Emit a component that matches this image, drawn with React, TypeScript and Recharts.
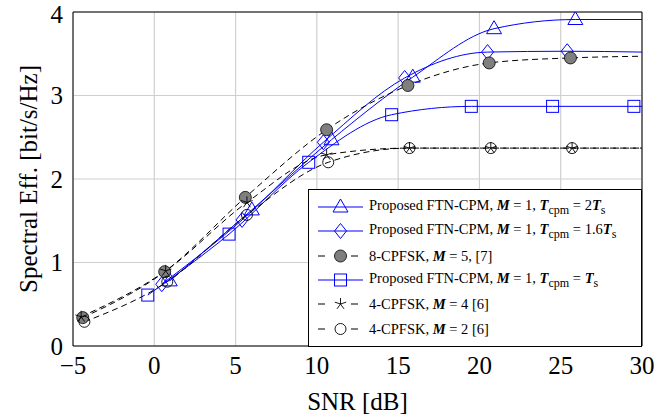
import React from 'react'
import { LineChart, Line, XAxis, YAxis, CartesianGrid, ReferenceArea, Legend } from 'recharts'

// ─── Data (SNR [dB], spectral efficiency [bit/s/Hz]) ──────────────────────────

type Pt = { snr: number; se: number }

const ftn2Ts: Pt[] = [
  { snr: 0.95, se: 0.78 },
  { snr: 6.0, se: 1.63 },
  { snr: 10.9, se: 2.47 },
  { snr: 15.9, se: 3.22 },
  { snr: 20.9, se: 3.8 },
  { snr: 25.9, se: 3.91 },
  { snr: 30, se: 3.91 },
]

const ftn16Ts: Pt[] = [
  { snr: 0.46, se: 0.74 },
  { snr: 5.4, se: 1.51 },
  { snr: 10.4, se: 2.44 },
  { snr: 15.4, se: 3.21 },
  { snr: 20.5, se: 3.52 },
  { snr: 25.4, se: 3.53 },
  { snr: 30, se: 3.52 },
]

const cpfsk8: Pt[] = [
  { snr: -4.4, se: 0.34 },
  { snr: 0.64, se: 0.89 },
  { snr: 5.6, se: 1.78 },
  { snr: 10.6, se: 2.59 },
  { snr: 15.6, se: 3.12 },
  { snr: 20.6, se: 3.39 },
  { snr: 25.6, se: 3.45 },
  { snr: 30, se: 3.47 },
]

const ftnTs: Pt[] = [
  { snr: -0.4, se: 0.61 },
  { snr: 4.6, se: 1.34 },
  { snr: 9.5, se: 2.2 },
  { snr: 14.6, se: 2.77 },
  { snr: 19.5, se: 2.87 },
  { snr: 24.5, se: 2.87 },
  { snr: 29.5, se: 2.87 },
  { snr: 30, se: 2.87 },
]

const cpfsk4M4: Pt[] = [
  { snr: -4.5, se: 0.35 },
  { snr: 0.7, se: 0.9 },
  { snr: 5.7, se: 1.72 },
  { snr: 10.6, se: 2.29 },
  { snr: 15.7, se: 2.37 },
  { snr: 20.7, se: 2.37 },
  { snr: 25.7, se: 2.37 },
  { snr: 30, se: 2.37 },
]

const cpfsk4M2: Pt[] = [
  { snr: -4.3, se: 0.29 },
  { snr: 0.8, se: 0.77 },
  { snr: 5.7, se: 1.57 },
  { snr: 10.7, se: 2.2 },
  { snr: 15.7, se: 2.37 },
  { snr: 20.7, se: 2.37 },
  { snr: 25.7, se: 2.37 },
  { snr: 30, se: 2.37 },
]

const xTicks = [-5, 0, 5, 10, 15, 20, 25, 30]
const yTicks = [0, 1, 2, 3, 4]

// ─── Styling ─────────────────────────────────────────────────────────────────

const SERIF = '"Liberation Serif", "DejaVu Serif", serif'
const BLUE = '#0000ff'
const DASH = '6 4'

type Mark = 'triangle' | 'diamond' | 'gray' | 'square' | 'star' | 'circle'

function marker(kind: Mark, cx: number, cy: number, key?: string | number) {
  switch (kind) {
    case 'triangle':
      return (
        <polygon key={key} points={`${cx},${cy - 8} ${cx - 7.5},${cy + 5} ${cx + 7.5},${cy + 5}`}
          fill="none" stroke={BLUE} strokeWidth={1} />
      )
    case 'diamond':
      return (
        <polygon key={key} points={`${cx},${cy - 7.5} ${cx + 6},${cy} ${cx},${cy + 7.5} ${cx - 6},${cy}`}
          fill="none" stroke={BLUE} strokeWidth={1} />
      )
    case 'square':
      return <rect key={key} x={cx - 6} y={cy - 6} width={12} height={12} fill="none" stroke={BLUE} strokeWidth={1} />
    case 'gray':
      return <circle key={key} cx={cx} cy={cy} r={6} fill="#7f7f7f" stroke="#000" strokeWidth={0.8} />
    case 'circle':
      return <circle key={key} cx={cx} cy={cy} r={5.5} fill="none" stroke="#000" strokeWidth={0.9} />
    case 'star': {
      const arms = [0, 1, 2, 3, 4].map((k) => {
        const a = (-90 + k * 72) * (Math.PI / 180)
        return `M${cx},${cy}L${cx + 6 * Math.cos(a)},${cy + 6 * Math.sin(a)}`
      })
      return <path key={key} d={arms.join('')} stroke="#000" strokeWidth={0.9} fill="none" />
    }
  }
}

// last point of each series only extends the curve to the axis edge
function dotFor(kind: Mark, n: number) {
  return (p: any) =>
    p.index === n - 1 || p.cx == null ? <g key={p.index} /> : marker(kind, p.cx, p.cy, p.index)
}

const series: { data: Pt[]; kind: Mark; color: string; dash?: string; label: React.ReactNode }[] = [
  {
    data: ftn2Ts, kind: 'triangle', color: BLUE,
    label: <>Proposed FTN-CPM, <b><i>M</i></b> = 1, <b><i>T</i></b><sub>cpm</sub> = 2<b><i>T</i></b><sub>s</sub></>,
  },
  {
    data: ftn16Ts, kind: 'diamond', color: BLUE,
    label: <>Proposed FTN-CPM, <b><i>M</i></b> = 1, <b><i>T</i></b><sub>cpm</sub> = 1.6<b><i>T</i></b><sub>s</sub></>,
  },
  { data: cpfsk8, kind: 'gray', color: '#000', dash: DASH, label: <>8-CPFSK, <b><i>M</i></b> = 5, [7]</> },
  {
    data: ftnTs, kind: 'square', color: BLUE,
    label: <>Proposed FTN-CPM, <b><i>M</i></b> = 1, <b><i>T</i></b><sub>cpm</sub> = <b><i>T</i></b><sub>s</sub></>,
  },
  { data: cpfsk4M4, kind: 'star', color: '#000', dash: DASH, label: <>4-CPFSK, <b><i>M</i></b> = 4 [6]</> },
  { data: cpfsk4M2, kind: 'circle', color: '#000', dash: DASH, label: <>4-CPFSK, <b><i>M</i></b> = 2 [6]</> },
]

function LegendBox() {
  return (
    <div
      style={{
        width: 334, height: 158, boxSizing: 'border-box', background: '#fff', border: '1px solid #000',
        padding: '5px 0 0 0', fontFamily: SERIF, fontSize: 14.5, color: '#000',
      }}
    >
      {series.map((s, i) => (
        <div key={i} style={{ display: 'flex', alignItems: 'center', height: 24.3 }}>
          <svg width={60} height={20} style={{ flex: 'none' }}>
            {s.dash ? (
              <line x1={9} x2={49} y1={10} y2={10} stroke={s.color} strokeWidth={1.2} strokeDasharray="7 26" />
            ) : (
              <line x1={9} x2={54} y1={10} y2={10} stroke={s.color} strokeWidth={1} />
            )}
            {marker(s.kind, 31.5, 10)}
          </svg>
          <span style={{ whiteSpace: 'nowrap', lineHeight: '16px' }}>{s.label}</span>
        </div>
      ))}
    </div>
  )
}

const fmtX = (v: number) => (v < 0 ? `\u2212${-v}` : `${v}`)

export default function App() {
  return (
    <div style={{ position: 'absolute', left: 0, top: 0, width: 655, height: 420, background: '#fff' }}>
      <LineChart width={655} height={420} margin={{ top: 12, right: 13, bottom: 0, left: 0 }}>
        <CartesianGrid stroke="#cfcfcf" strokeWidth={1.2} />
        <XAxis
          type="number"
          dataKey="snr"
          domain={[-5, 30]}
          ticks={xTicks}
          tickFormatter={fmtX}
          height={74}
          tickLine={false}
          axisLine={false}
          tickMargin={4}
          tick={{ fontSize: 25, fill: '#000', fontFamily: SERIF }}
          allowDataOverflow
          label={({ viewBox }: any) => (
            <text x={viewBox.x + viewBox.width / 2} y={410} textAnchor="middle" fontSize={25} fontFamily={SERIF} fill="#000">
              SNR [dB]
            </text>
          )}
        />
        <YAxis
          type="number"
          domain={[0, 4]}
          ticks={yTicks}
          width={73}
          tickLine={false}
          axisLine={false}
          tickMargin={4}
          tick={{ fontSize: 25, fill: '#000', fontFamily: SERIF }}
          allowDataOverflow
          label={({ viewBox }: any) => {
            const cy = viewBox.y + viewBox.height / 2
            return (
              <text x={28} y={cy} transform={`rotate(-90, 28, ${cy})`} textAnchor="middle" dominantBaseline="central"
                fontSize={25} fontFamily={SERIF} fill="#000">
                Spectral Eff. [bit/s/Hz]
              </text>
            )
          }}
        />
        <ReferenceArea x1={-5} x2={30} y1={0} y2={4} fill="none" stroke="#000" strokeWidth={1} />
        {series.map((s, i) => (
          <Line
            key={i}
            data={s.data}
            dataKey="se"
            type="monotone"
            stroke={s.color}
            strokeWidth={1}
            strokeDasharray={s.dash}
            dot={dotFor(s.kind, s.data.length)}
            activeDot={false}
            isAnimationActive={false}
          />
        ))}
        <Legend
          layout="vertical"
          align="center"
          verticalAlign="middle"
          content={() => <LegendBox />}
          wrapperStyle={{ left: 308, top: 189, width: 334, height: 158, right: 'auto', bottom: 'auto' }}
        />
      </LineChart>
    </div>
  )
}
